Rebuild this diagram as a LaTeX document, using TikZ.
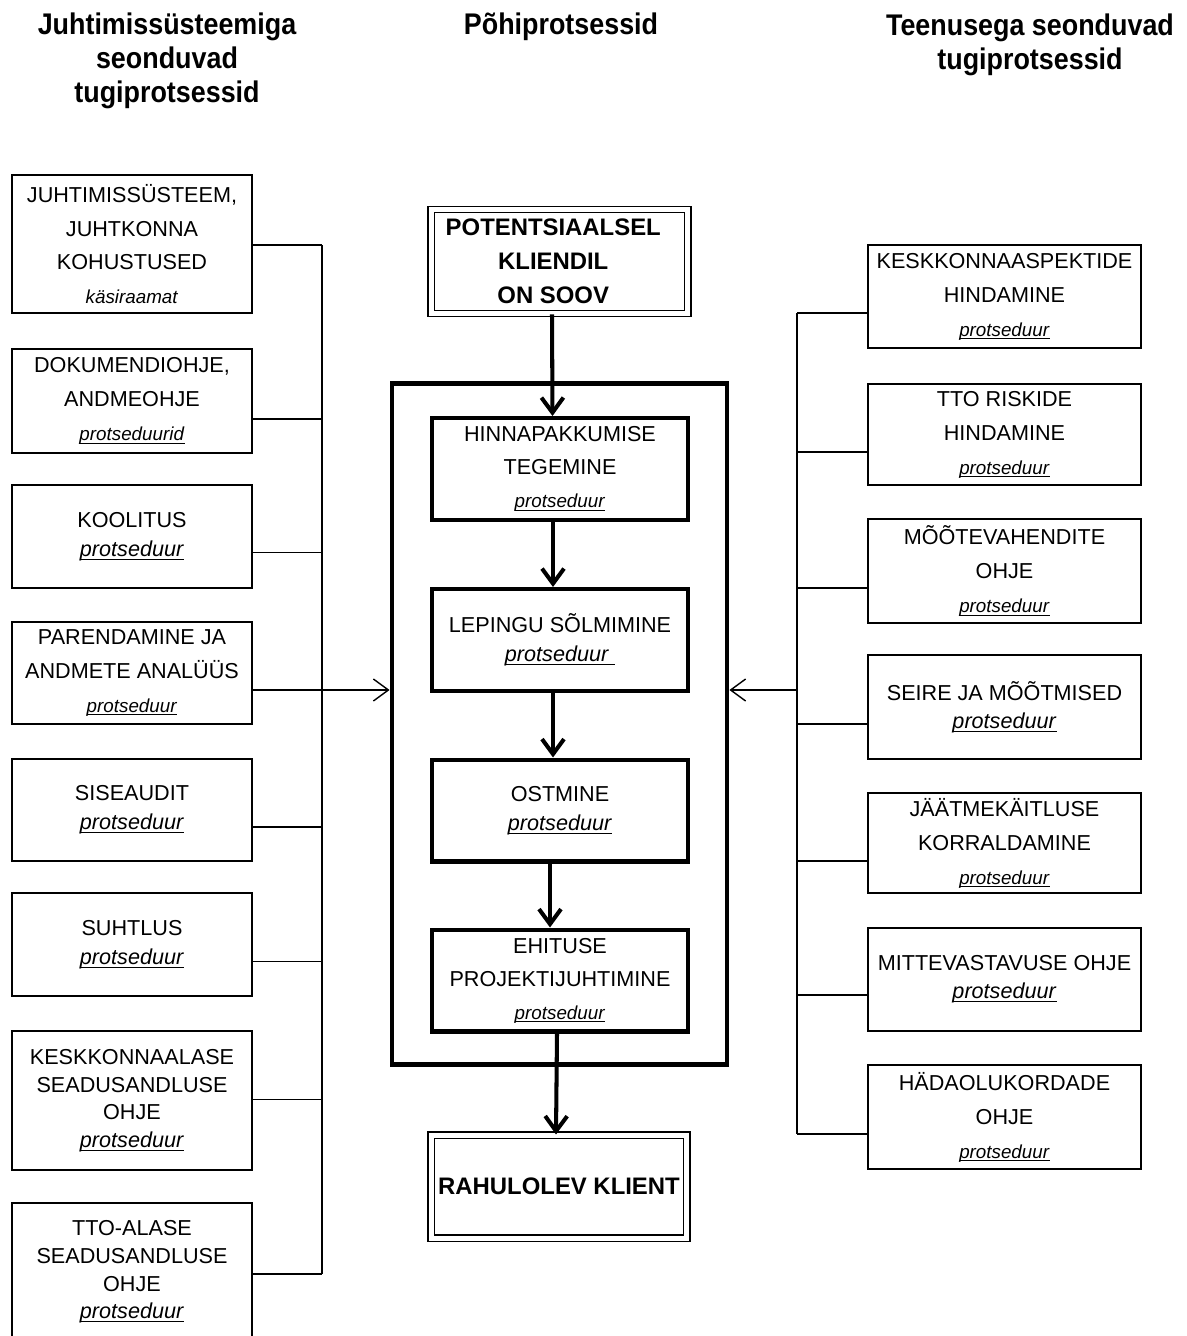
\documentclass[tikz,border=0pt]{standalone}
\usepackage{fontspec}
\setmainfont{Liberation Sans}
\newfontfamily\headfont[FakeStretch=0.9]{Liberation Sans}
\usetikzlibrary{arrows.meta}

% underlined text, line just under the baseline
\newcommand{\undl}[1]{\setbox0\hbox{#1}\rlap{\rule[-0.16em]{\wd0}{0.05em}}\box0}
\newcommand{\prot}{\undl{\textit{protseduur}}}
\newcommand{\sprot}{{\fontsize{10.7}{12}\selectfont\undl{\textit{protseduur}}}}

\tikzset{
  sidebox/.style={draw, line width=0.8pt, minimum width=4.8cm, align=center, inner sep=0pt,
    font=\fontsize{12.3}{19.3}\selectfont},
  rightbox/.style={sidebox, minimum width=5.46cm},
  procbox/.style={draw, line width=2.3pt, minimum width=5.12cm, minimum height=2.04cm,
    align=center, inner sep=0pt, font=\fontsize{12.3}{16.5}\selectfont},
  endbox/.style={draw, double, double distance=0.1cm, line width=0.6pt, align=center,
    inner sep=0pt, font=\bfseries\fontsize{13.6}{19.3}\selectfont},
  colhead/.style={align=center, font=\headfont\bfseries\fontsize{17}{19.3}\selectfont},
  link/.style={line width=0.8pt},
  flow/.style={line width=2.3pt, -{Straight Barb[length=0.3cm,width=0.44cm]}},
  inflow/.style={line width=0.8pt, -{Straight Barb[length=0.3cm,width=0.44cm]}},
}

\begin{document}
\begin{tikzpicture}[x=0.02cm, y=-0.02cm]
    \useasboundingbox (0,0) rectangle (1187,1336);

    % column titles
    \node[colhead] (hl) at (167,61) {Juhtimissüsteemiga\\seonduvad\\tugiprotsessid};
    \node[colhead] (hm) at (561,27) {Põhiprotsessid};
    \node[colhead] (hr) at (1030,45) {Teenusega seonduvad\\tugiprotsessid};

    % left column
    \node[sidebox, minimum height=2.76cm] (l1) at (132,244)
        {JUHTIMISSÜSTEEM,\\JUHTKONNA\\KOHUSTUSED\\{\fontsize{10.7}{12}\selectfont\textit{käsiraamat}}};
    \node[sidebox, minimum height=2.08cm] (l2) at (132,401)
        {DOKUMENDIOHJE,\\ANDMEOHJE\\{\fontsize{10.7}{12}\selectfont\undl{\textit{protseduurid}}}};
    \node[sidebox, minimum height=2.06cm, font=\fontsize{12.3}{16.5}\selectfont] (l3) at (132,536.5)
        {KOOLITUS\\\prot};
    \node[sidebox, minimum height=2.04cm] (l4) at (132,673)
        {PARENDAMINE JA\\ANDMETE ANALÜÜS\\\sprot};
    \node[sidebox, minimum height=2.04cm, font=\fontsize{12.3}{16.5}\selectfont] (l5) at (132,810)
        {SISEAUDIT\\\prot};
    \node[sidebox, minimum height=2.06cm, font=\fontsize{12.3}{16.5}\selectfont] (l6) at (132,944.5)
        {SUHTLUS\\\prot};
    \node[sidebox, minimum height=2.78cm, font=\fontsize{12.3}{15.7}\selectfont] (l7) at (132,1100.5)
        {KESKKONNAALASE\\SEADUSANDLUSE\\OHJE\\\prot};
    \node[sidebox, minimum height=2.76cm, font=\fontsize{12.3}{15.7}\selectfont] (l8) at (132,1272)
        {TTO-ALASE\\SEADUSANDLUSE\\OHJE\\\prot};

    % right column
    \node[rightbox, minimum height=2.06cm] (r1) at (1004.5,296.5) {KESKKONNAASPEKTIDE\\HINDAMINE\\\sprot};
    \node[rightbox, minimum height=2.02cm] (r2) at (1004.5,434.5) {TTO RISKIDE\\HINDAMINE\\\sprot};
    \node[rightbox, minimum height=2.08cm] (r3) at (1004.5,571) {MÕÕTEVAHENDITE\\OHJE\\\sprot};
    \node[rightbox, minimum height=2.08cm, font=\fontsize{12.3}{16}\selectfont] (r4) at (1004.5,707)
        {SEIRE JA MÕÕTMISED\\\prot};
    \node[rightbox, minimum height=2.0cm] (r5) at (1004.5,843) {JÄÄTMEKÄITLUSE\\KORRALDAMINE\\\sprot};
    \node[rightbox, minimum height=2.06cm, font=\fontsize{12.3}{16}\selectfont] (r6) at (1004.5,979.5)
        {MITTEVASTAVUSE OHJE\\\prot};
    \node[rightbox, minimum height=2.08cm] (r7) at (1004.5,1117) {HÄDAOLUKORDADE\\OHJE\\\sprot};

    % main processes
    \node[endbox, minimum width=5.14cm, minimum height=2.09cm] (pot) at (559.5,261.5)
        {\hspace*{-0.25cm}POTENTSIAALSEL\\\hspace*{-0.25cm}KLIENDIL\\\hspace*{-0.25cm}ON SOOV};
    \node[draw, line width=2.8pt, minimum width=6.7cm, minimum height=13.64cm] (frame) at (559.5,724) {};
    \node[procbox, font=\fontsize{12.3}{18.8}\selectfont] (hinna) at (560,469)
        {HINNAPAKKUMISE\\TEGEMINE\\\sprot};
    \node[procbox] (lep) at (560,640) {LEPINGU SÕLMIMINE\\\undl{\textit{protseduur\ }}};
    \node[procbox] (ost) at (560,810.5) {OSTMINE\\\prot};
    \node[procbox, font=\fontsize{12.3}{18.8}\selectfont] (ehi) at (560,980.5)
        {EHITUSE\\PROJEKTIJUHTIMINE\\\sprot};
    \node[endbox, minimum width=5.12cm, minimum height=2.06cm] (rah) at (559,1186.5) {RAHULOLEV KLIENT};

    % links to the side buses
    \coordinate (lbus) at (322,0);
    \coordinate (rbus) at (797,0);
    \foreach \b/\d in {l1/0.02,l2/0.36,l3/0.32,l5/0.34,l6/0.34,l7/-0.02,l8/0.04}
        \draw[link] ([yshift=-\d cm]\b.east) -- ([yshift=-\d cm]\b.east -| lbus);
    \draw[link] ([yshift=-0.02cm]l1.east -| lbus) -- ([yshift=-0.04cm]l8.east -| lbus);
    \foreach \b/\d in {r1/0.33,r2/0.35,r3/0.34,r4/0.34,r5/0.36,r6/0.31,r7/0.34}
        \draw[link] ([yshift=-\d cm]\b.west) -- ([yshift=-\d cm]\b.west -| rbus);
    \draw[link] ([yshift=-0.33cm]r1.west -| rbus) -- ([yshift=-0.34cm]r7.west -| rbus);

    \coordinate (injoin) at ([yshift=-0.34cm]l4.east);
    \draw[inflow] (injoin) -- (injoin -| frame.west);
    \draw[inflow] (injoin -| rbus) -- (injoin -| frame.east);

    % process flow
    \draw[flow] ([xshift=-0.15cm]pot.south) -- ([xshift=-0.15cm]hinna.north);
    \draw[flow] ([xshift=-0.14cm]hinna.south) -- ([xshift=-0.14cm]lep.north);
    \draw[flow] ([xshift=-0.14cm]lep.south) -- ([xshift=-0.14cm]ost.north);
    \draw[flow] ([xshift=-0.2cm]ost.south) -- ([xshift=-0.2cm]ehi.north);
    \draw[flow] ([xshift=-0.06cm]ehi.south) -- ([xshift=-0.06cm]rah.north);
\end{tikzpicture}
\end{document}
